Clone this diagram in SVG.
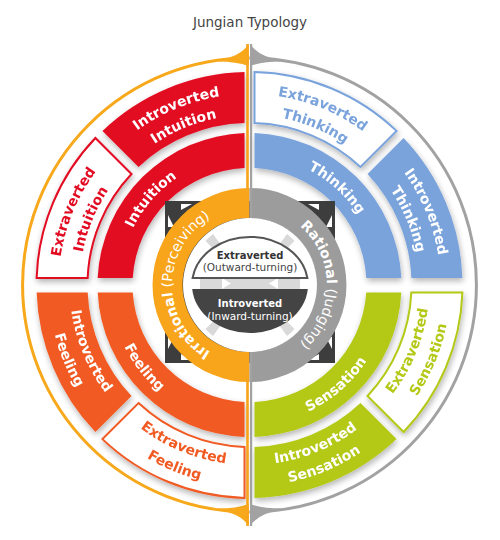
<svg xmlns="http://www.w3.org/2000/svg" width="500" height="540" viewBox="0 0 500 540">
<style>
.t{font-family:"DejaVu Sans",Verdana,sans-serif;}
.b{font-family:"DejaVu Sans",Verdana,sans-serif;font-weight:bold;font-size:14px;}
.m{font-family:"DejaVu Sans",Verdana,sans-serif;font-size:14px;fill:#fff;}
.w{fill:#fff}
.red{fill:#e30b24}.blue{fill:#7aa3dc}.green{fill:#b4c817}.org{fill:#f15a22}
.ored{fill:#fff;stroke:#e30b24;stroke-width:2}
.oblue{fill:#fff;stroke:#7aa3dc;stroke-width:2}
.ogreen{fill:#fff;stroke:#b4c817;stroke-width:2}
.oorg{fill:#fff;stroke:#f15a22;stroke-width:2}
.notch{fill:#fff}
</style>
<defs>
<filter id="sh" x="-20%" y="-20%" width="140%" height="140%">
<feGaussianBlur in="SourceAlpha" stdDeviation="3"/>
<feOffset dx="1" dy="3"/>
<feComponentTransfer><feFuncA type="linear" slope="0.3"/></feComponentTransfer>
<feMerge><feMergeNode/><feMergeNode in="SourceGraphic"/></feMerge>
</filter>
<path id="pIntuition" d="M 123.85,316.33 A 129.5 129.5 0 0 1 263.03,156.21"/>
<path id="pThinking" d="M 220.36,158.82 A 129.5 129.5 0 0 1 378.03,300.78"/>
<path id="pSensation" d="M 215.75,420.36 A 139.5 139.5 0 0 0 388.24,270.42"/>
<path id="pFeeling" d="M 116.10,244.21 A 139.5 139.5 0 0 0 256.80,424.31"/>
<path id="pII1" d="M 63.03,243.67 A 191 191 0 0 1 352.12,123.91"/>
<path id="pII2" d="M 83.53,248.21 A 170 170 0 0 1 340.84,141.62"/>
<path id="pEI1" d="M 88.41,387.62 A 191 191 0 0 1 208.17,98.53"/>
<path id="pEI2" d="M 106.12,376.34 A 170 170 0 0 1 212.71,119.03"/>
<path id="pET1" d="M 146.88,123.91 A 191 191 0 0 1 435.97,243.67"/>
<path id="pET2" d="M 158.16,141.62 A 170 170 0 0 1 415.47,248.21"/>
<path id="pIT1" d="M 290.83,98.53 A 191 191 0 0 1 410.59,387.62"/>
<path id="pIT2" d="M 286.29,119.03 A 170 170 0 0 1 392.88,376.34"/>
<path id="pES1" d="M 288.45,460.73 A 180 180 0 0 0 401.31,188.29"/>
<path id="pES2" d="M 293.00,481.24 A 201 201 0 0 0 419.02,177.00"/>
<path id="pIS1" d="M 152.79,436.81 A 180 180 0 0 0 425.23,323.95"/>
<path id="pIS2" d="M 141.50,454.52 A 201 201 0 0 0 445.74,328.50"/>
<path id="pEF1" d="M 73.77,323.95 A 180 180 0 0 0 346.21,436.81"/>
<path id="pEF2" d="M 53.26,328.50 A 201 201 0 0 0 357.50,454.52"/>
<path id="pIF1" d="M 97.69,188.29 A 180 180 0 0 0 210.55,460.73"/>
<path id="pIF2" d="M 79.98,177.00 A 201 201 0 0 0 206.00,481.24"/>
<path id="pLeft" d="M 249.5,362.5 A 77.5 77.5 0 0 1 249.5,207.5"/>
<path id="pRight" d="M 249.5,207.5 A 77.5 77.5 0 0 1 249.5,362.5"/>
</defs>

<rect width="500" height="540" fill="#fff"/>
<text class="t" x="250" y="27" text-anchor="middle" font-size="13.5" fill="#444">Jungian Typology</text>

<g id="frame">
<path d="M 249.5,58 A 227 227 0 0 0 249.5,512" fill="none" stroke="#f7a81b" stroke-width="3"/>
<path d="M 249.5,58 A 227 227 0 0 1 249.5,512" fill="none" stroke="#a2a2a2" stroke-width="3"/>
<path d="M 218,60 Q 240,57 248.8,44 L 248.8,66 Q 236,61.5 218,61.5 Z" fill="#f7a81b"/>
<path d="M 281,60 Q 259,57 250,44 L 250,66 Q 263,61.5 281,61.5 Z" fill="#a2a2a2"/>
<path d="M 218,510 Q 240,513 248.8,526 L 248.8,504 Q 236,508.5 218,508.5 Z" fill="#f7a81b"/>
<path d="M 281,510 Q 259,513 250,526 L 250,504 Q 263,508.5 281,508.5 Z" fill="#a2a2a2"/>
</g>

<g id="introverted-intuition" filter="url(#sh)">
<path class="red" d="M 244.5,72.06 A 213 213 0 0 0 102.47,130.90 L 138.54,166.97 A 162 162 0 0 1 244.5,123.08 Z"/>
<text class="b w"><textPath href="#pII1" startOffset="50%" text-anchor="middle">Introverted</textPath></text>
<text class="b w"><textPath href="#pII2" startOffset="50%" text-anchor="middle">Intuition</textPath></text>
</g>
<g id="extraverted-intuition" filter="url(#sh)">
<path class="ored" d="M 95.40,137.97 A 213 213 0 0 0 36.62,278 L 87.65,278 A 162 162 0 0 1 131.47,174.04 Z"/>
<text class="b red"><textPath href="#pEI1" startOffset="50%" text-anchor="middle">Extraverted</textPath></text>
<text class="b red"><textPath href="#pEI2" startOffset="50%" text-anchor="middle">Intuition</textPath></text>
</g>
<g id="extraverted-thinking" filter="url(#sh)">
<path class="oblue" d="M 254.5,72.06 A 213 213 0 0 1 396.53,130.90 L 360.46,166.97 A 162 162 0 0 0 254.5,123.08 Z"/>
<text class="b blue"><textPath href="#pET1" startOffset="50%" text-anchor="middle">Extraverted</textPath></text>
<text class="b blue"><textPath href="#pET2" startOffset="50%" text-anchor="middle">Thinking</textPath></text>
</g>
<g id="introverted-thinking" filter="url(#sh)">
<path class="blue" d="M 403.60,137.97 A 213 213 0 0 1 462.38,278 L 411.35,278 A 162 162 0 0 0 367.53,174.04 Z"/>
<text class="b w"><textPath href="#pIT1" startOffset="50%" text-anchor="middle">Introverted</textPath></text>
<text class="b w"><textPath href="#pIT2" startOffset="50%" text-anchor="middle">Thinking</textPath></text>
</g>
<g id="extraverted-sensation" filter="url(#sh)">
<path class="ogreen" d="M 462.37,292.5 A 213 213 0 0 1 403.60,432.03 L 367.53,395.96 A 162 162 0 0 0 411.33,292.5 Z"/>
<text class="b green"><textPath href="#pES1" startOffset="50%" text-anchor="middle">Extraverted</textPath></text>
<text class="b green"><textPath href="#pES2" startOffset="50%" text-anchor="middle">Sensation</textPath></text>
</g>
<g id="introverted-sensation" filter="url(#sh)">
<path class="green" d="M 396.53,439.10 A 213 213 0 0 1 254.5,497.94 L 254.5,446.92 A 162 162 0 0 0 360.46,403.03 Z"/>
<text class="b w"><textPath href="#pIS1" startOffset="50%" text-anchor="middle">Introverted</textPath></text>
<text class="b w"><textPath href="#pIS2" startOffset="50%" text-anchor="middle">Sensation</textPath></text>
</g>
<g id="extraverted-feeling" filter="url(#sh)">
<path class="oorg" d="M 102.47,439.10 A 213 213 0 0 0 244.5,497.94 L 244.5,446.92 A 162 162 0 0 1 138.54,403.03 Z"/>
<text class="b org"><textPath href="#pEF1" startOffset="50%" text-anchor="middle">Extraverted</textPath></text>
<text class="b org"><textPath href="#pEF2" startOffset="50%" text-anchor="middle">Feeling</textPath></text>
</g>
<g id="introverted-feeling" filter="url(#sh)">
<path class="org" d="M 36.63,292.5 A 213 213 0 0 0 95.40,432.03 L 131.47,395.96 A 162 162 0 0 1 87.67,292.5 Z"/>
<text class="b w"><textPath href="#pIF1" startOffset="50%" text-anchor="middle">Introverted</textPath></text>
<text class="b w"><textPath href="#pIF2" startOffset="50%" text-anchor="middle">Feeling</textPath></text>
</g>

<g id="intuition" filter="url(#sh)">
<path class="red" d="M 244.5,133.08 A 152 152 0 0 0 97.66,278 L 132.71,278 A 117 117 0 0 1 244.5,168.11 Z"/>
<text class="b w"><textPath href="#pIntuition" startOffset="50%" text-anchor="middle">Intuition</textPath></text>
</g>
<g id="thinking" filter="url(#sh)">
<path class="blue" d="M 254.5,133.08 A 152 152 0 0 1 401.34,278 L 366.29,278 A 117 117 0 0 0 254.5,168.11 Z"/>
<text class="b w"><textPath href="#pThinking" startOffset="50%" text-anchor="middle">Thinking</textPath></text>
</g>
<g id="sensation" filter="url(#sh)">
<path class="green" d="M 401.31,292.5 A 152 152 0 0 1 254.5,436.92 L 254.5,401.89 A 117 117 0 0 0 366.26,292.5 Z"/>
<text class="b w"><textPath href="#pSensation" startOffset="50%" text-anchor="middle">Sensation</textPath></text>
</g>
<g id="feeling" filter="url(#sh)">
<path class="org" d="M 97.69,292.5 A 152 152 0 0 0 244.5,436.92 L 244.5,401.89 A 117 117 0 0 1 132.74,292.5 Z"/>
<text class="b w"><textPath href="#pFeeling" startOffset="50%" text-anchor="middle">Feeling</textPath></text>
</g>

<g id="connectors">
<rect x="165" y="201" width="170" height="162" fill="#3d3d3d"/>
<path class="notch" d="M 168,215 L 168,227 L 174,227 Z"/>
<path class="notch" d="M 181,204 L 192,204 L 181,210 Z"/>
<path class="notch" d="M 332,215 L 332,227 L 326,227 Z"/>
<path class="notch" d="M 319,204 L 308,204 L 319,210 Z"/>
<path class="notch" d="M 168,349 L 168,337 L 174,337 Z"/>
<path class="notch" d="M 181,360 L 192,360 L 181,354 Z"/>
<path class="notch" d="M 332,349 L 332,337 L 326,337 Z"/>
<path class="notch" d="M 319,360 L 308,360 L 319,354 Z"/>
</g>

<g id="irrational">
<path d="M 249.5,188 A 97 97 0 0 0 249.5,382 L 249.5,352 A 67 67 0 0 1 249.5,218 Z" fill="#f8a51b"/>
<text class="m"><textPath href="#pLeft" startOffset="50%" text-anchor="middle"><tspan font-weight="bold">Irrational</tspan> (Perceiving)</textPath></text>
</g>
<g id="rational">
<path d="M 249.5,188 A 97 97 0 0 1 249.5,382 L 249.5,352 A 67 67 0 0 0 249.5,218 Z" fill="#9c9c9c"/>
<text class="m"><textPath href="#pRight" startOffset="50%" text-anchor="middle"><tspan font-weight="bold">Rational</tspan> (Judging)</textPath></text>
</g>

<g id="divider">
<rect x="246.2" y="44" width="2.6" height="482" fill="#f8a51b"/>
<rect x="250" y="44" width="2.2" height="482" fill="#a2a2a2"/>
</g>

<g id="core">
<circle cx="250" cy="285" r="67" fill="#fff"/>
<path d="M 250,285 L 205.5,241 A 63 63 0 0 1 213,234 Z M 250,285 L 294.5,241 A 63 63 0 0 0 287,234 Z M 250,285 L 205.5,329 A 63 63 0 0 0 213,336 Z M 250,285 L 294.5,329 A 63 63 0 0 1 287,336 Z" fill="#d9d9d9"/>
<path d="M 200,278 L 300,278 L 300,289 L 200,289 Z" fill="#d9d9d9"/>
<path class="notch" d="M 222,278 L 231,283.5 L 222,289 Z M 278,278 L 269,283.5 L 278,289 Z"/>
</g>
<g id="extraverted">
<path d="M 192.6,278 A 58 48 0 0 1 307.4,278 Z" fill="#fff" stroke="#555" stroke-width="2"/>
<text class="t" x="250" y="258.5" text-anchor="middle" font-size="10" font-weight="bold" fill="#333">Extraverted</text>
<text class="t" x="250" y="271" text-anchor="middle" font-size="10.5" fill="#444">(Outward-turning)</text>
</g>
<g id="introverted">
<path d="M 192.2,289 A 58 48 0 0 0 307.8,289 Z" fill="#444"/>
<text class="t" x="250" y="307" text-anchor="middle" font-size="10" font-weight="bold" fill="#fff">Introverted</text>
<text class="t" x="250" y="320" text-anchor="middle" font-size="10.5" fill="#fff">(Inward-turning)</text>
</g>
</svg>
